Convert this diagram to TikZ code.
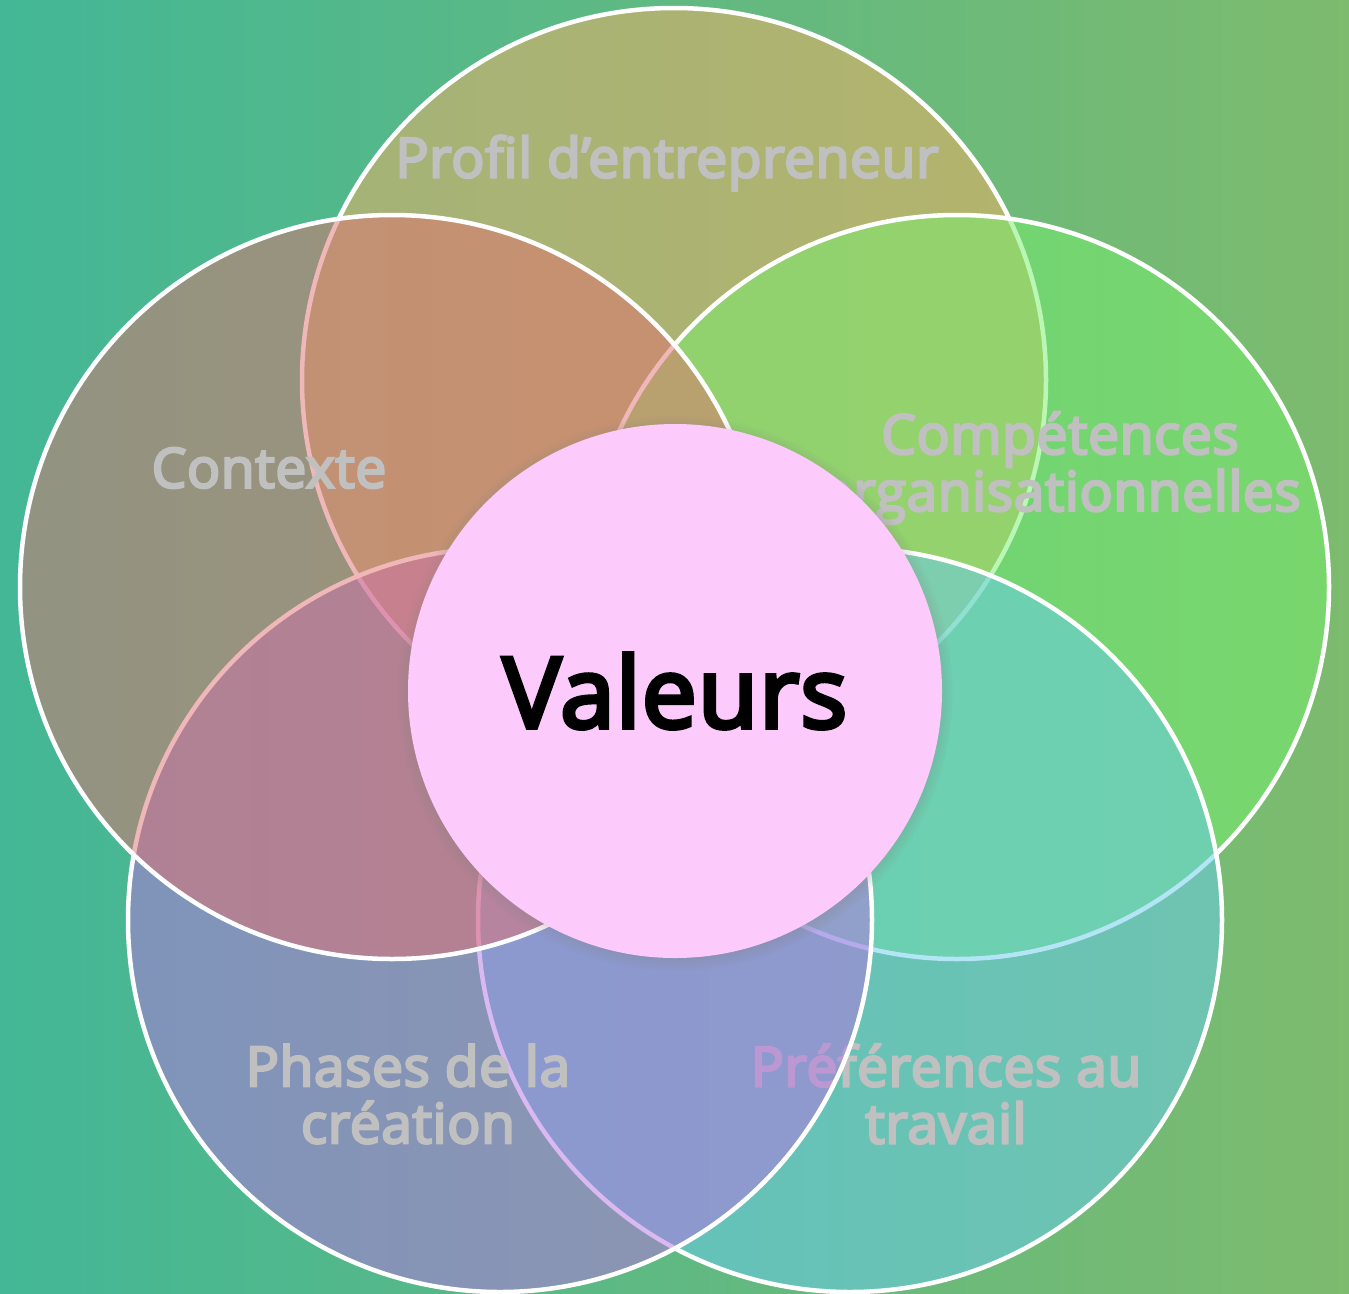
\documentclass[tikz,border=0pt]{standalone}
\usepackage{fontspec}
\setmainfont{Open Sans}
\newfontfamily\semifont{Open Sans}[FakeBold=4.5,LetterSpace=1.2]
\usetikzlibrary{shadows}
\definecolor{bgleft}{HTML}{43B796}
\definecolor{bgright}{HTML}{7DBB6E}
\definecolor{cprofil}{HTML}{F8AF64}
\definecolor{ccontexte}{HTML}{E17070}
\definecolor{ccompet}{HTML}{77F16D}
\definecolor{cphases}{HTML}{B772E3}
\definecolor{cprefs}{HTML}{68CCF0}
\definecolor{cvaleurs}{HTML}{FCCBFC}
\definecolor{lblgray}{HTML}{C0C0C0}
\tikzset{
    %Define style for the big circles
    petal/.style={
           circle,
           draw=white, line width=4.5pt,
           fill opacity=0.5,
           minimum size=744pt,
           inner sep=0pt},
    %Define style for the middle circle
    core/.style={
           circle,
           fill=cvaleurs,
           minimum size=534pt,
           inner sep=0pt,
           circular drop shadow={shadow xshift=0pt, shadow yshift=-2pt,
             shadow scale=1.04, opacity=0.8},
           font=\semifont\fontsize{98}{110}\selectfont,
           text=black},
    %Define style for the labels
    lbl/.style={
           align=center,
           text=lblgray,
           font=\semifont\fontsize{55}{57}\selectfont}
}
\begin{document}
\begin{tikzpicture}[x=1pt,y=-1pt]

 %background
\shade[left color=bgleft, right color=bgright] (0,0) rectangle (1349,1293);
\useasboundingbox (0,0) rectangle (1349,1293);

 %circles and labels
\node[petal, fill=cprofil](profil) at (674,380){};
\node[lbl](lprofil) at (667,163){Profil d’entrepreneur};
\node[petal, fill=ccompet](compet) at (957,587){};
\node[lbl](lcompet) at (1060,468){Compétences\\organisationnelles};
\node[petal, fill=cprefs](prefs) at (850,920){};
\node[lbl](lprefs) at (946,1094){Préférences au\\travail};
\node[petal, fill=cphases](phases) at (500,920){};
\node[lbl](lphases) at (408,1094){Phases de la\\création};
\node[petal, fill=ccontexte](contexte) at (392,587){};
\node[lbl](lcontexte) at (269,468){Contexte};

\node[core](valeurs) at (675,691){Valeurs};

\end{tikzpicture}
\end{document}
